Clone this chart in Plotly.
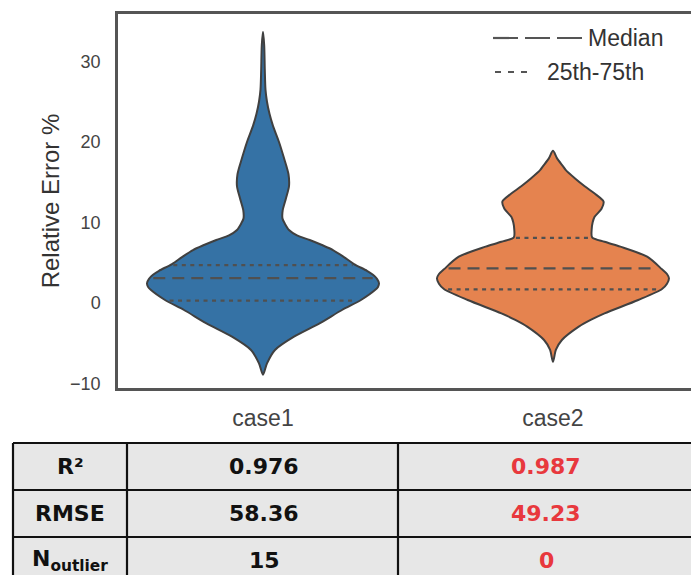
import numpy as np
import plotly.graph_objects as go

# ---- data -------------------------------------------------------------
categories = ["case1", "case2"]
violin_colors = ["#3572a5", "#e5834f"]

# violin outlines: value levels (top -> bottom) and relative density width
case1_levels = [33.7, 32.0, 29.0, 26.5, 25.0, 23.5, 22.0, 20.0, 18.0, 16.0, 14.5,
                13.0, 11.5, 10.5, 9.9, 9.07, 8.4, 7.83, 7.2, 6.58, 5.7, 4.84,
                4.0, 3.5, 3.0, 2.45, 2.0, 1.6, 0.37, -0.87, -2.5, -4.19, -5.84,
                -7.5, -8.9]
case1_density = [0, 1.2, 1.8, 2.5, 4, 6.5, 10, 16, 21, 25.5, 26,
                 23, 19.7, 19.5, 21.7, 26, 34, 46.7, 59, 70, 81, 91,
                 104, 110, 114, 116, 115, 112, 98, 79, 57, 31, 12,
                 4, 0]

case2_levels = [18.9, 18.0, 17.0, 16.5, 15.5, 14.5, 13.5, 12.6, 11.7, 10.7, 10.0,
                9.07, 8.16, 7.6, 7.0, 5.75, 4.18, 3.6, 3.06, 2.4, 1.74, 0.37,
                -1.28, -2.1, -2.94, -4.6, -5.8, -7.3]
case2_density = [0, 4, 10, 13, 22, 32, 43, 51, 49, 42, 40,
                 39, 39.5, 52, 68, 95, 110, 115, 117, 115, 110, 86,
                 52, 38, 26, 9, 3, 0]

# quartiles (25th, median, 75th)
case1_quartiles = [0.3, 3.1, 4.7]
case2_quartiles = [1.7, 4.3, 8.1]

# summary table
table_rows = ["R²", "RMSE", "N<sub>outlier</sub>"]
case1_stats = ["0.976", "58.36", "15"]
case2_stats = ["0.987", "49.23", "0"]

y_ticks = [-10, 0, 10, 20, 30]

# ---- figure -----------------------------------------------------------
W, H = 691, 575
L, R, T, B = 118, 0, 14, 187
PW, PH = W - L - R, H - T - B
HALF_WIDTH = 0.4

fig = go.Figure()

levels = [case1_levels, case2_levels]
dens = [case1_density, case2_density]
quarts = [case1_quartiles, case2_quartiles]

for i, cat in enumerate(categories):
    y = np.array(levels[i], dtype=float)
    d = np.array(dens[i], dtype=float)
    w = d / d.max() * HALF_WIDTH
    xs = np.concatenate([i + w, (i - w)[::-1][1:]])
    ys = np.concatenate([y, y[::-1][1:]])
    fig.add_trace(go.Scatter(
        x=xs, y=ys, mode="lines", fill="toself",
        fillcolor=violin_colors[i],
        line=dict(color="#404040", width=2, shape="spline", smoothing=0.8),
        showlegend=False, hoverinfo="skip",
    ))
    # inner quartile lines, spanning the outline width at that level
    yi, wi = y[::-1], w[::-1]
    for k, q in enumerate(quarts[i]):
        hw = float(np.interp(q, yi, wi)) - 0.012
        fig.add_trace(go.Scatter(
            x=[i - hw, i + hw], y=[q, q], mode="lines",
            line=dict(color="#505050", width=2.2,
                      dash="12px,7px" if k == 1 else "4px,4.5px"),
            showlegend=False, hoverinfo="skip",
        ))

font_main = "Liberation Sans, Arial, Helvetica, sans-serif"

fig.update_layout(
    width=W, height=H,
    margin=dict(l=L, r=R, t=T, b=B),
    paper_bgcolor="white", plot_bgcolor="white",
    font=dict(family=font_main, color="#444"),
    showlegend=False,
    xaxis=dict(
        range=[-0.5, 1.476], tickvals=[0, 1], ticktext=categories,
        showgrid=False, zeroline=False, showline=True, mirror=True,
        linecolor="#555", linewidth=2.5, ticks="",
        tickfont=dict(size=23, color="#444"), ticklabelstandoff=8,
    ),
    yaxis=dict(
        range=[-10.56, 35.9], tickvals=y_ticks,
        ticktext=["\u221210", "0", "10", "20", "30"],
        showgrid=False, zeroline=False, showline=True, mirror=False,
        linecolor="#555", linewidth=2.5, ticks="",
        tickfont=dict(size=18, color="#444"), ticklabelstandoff=11,
        title=dict(text="Relative Error %", font=dict(size=24, color="#333"),
                   standoff=4),
    ),
)


def px(x):
    return (x - L) / PW


def py(y):
    return (H - B - y) / PH


shapes = []
annots = []

# legend drawn as line samples + labels in the upper right corner
shapes.append(dict(type="line", xref="paper", yref="paper",
                   x0=px(493), x1=px(582), y0=py(38), y1=py(38),
                   line=dict(color="#555", width=2.2, dash="25px,7px")))
shapes.append(dict(type="line", xref="paper", yref="paper",
                   x0=px(495), x1=px(531), y0=py(72), y1=py(72),
                   line=dict(color="#555", width=2.2, dash="6px,7px")))
annots.append(dict(xref="paper", yref="paper", x=px(586), y=py(38),
                   text="Median", showarrow=False, xanchor="left",
                   yanchor="middle", font=dict(size=23, color="#333")))
annots.append(dict(xref="paper", yref="paper", x=px(545), y=py(72),
                   text="25th-75th", showarrow=False, xanchor="left",
                   yanchor="middle", font=dict(size=23, color="#333")))

# summary table under the axes
tbl_left, tbl_right = 13, 720
col_edges = [13, 127, 398]
col_centers = [70, 264, 546]
row_edges = [443, 490, 537]
row_centers = [466, 513, 560]

shapes.append(dict(type="rect", xref="paper", yref="paper",
                   x0=px(tbl_left), x1=px(tbl_right),
                   y0=py(row_edges[0]), y1=py(H + 20),
                   fillcolor="#e7e7e7", line=dict(width=0), layer="below"))
for ry in row_edges:
    shapes.append(dict(type="line", xref="paper", yref="paper",
                       x0=px(tbl_left), x1=px(tbl_right), y0=py(ry), y1=py(ry),
                       line=dict(color="#111", width=2.2)))
for cx in col_edges:
    shapes.append(dict(type="line", xref="paper", yref="paper",
                       x0=px(cx), x1=px(cx), y0=py(row_edges[0]), y1=py(H + 20),
                       line=dict(color="#111", width=2.2)))

tbl_font = "DejaVu Sans, Verdana, sans-serif"
for r, label in enumerate(table_rows):
    cells = [(label, "#111"), (case1_stats[r], "#111"), (case2_stats[r], "#e8383d")]
    for c, (txt, col) in enumerate(cells):
        annots.append(dict(xref="paper", yref="paper",
                           x=px(col_centers[c]), y=py(row_centers[r]),
                           text=f"<b>{txt}</b>", showarrow=False,
                           xanchor="center", yanchor="middle",
                           font=dict(family=tbl_font, size=22, color=col)))

fig.update_layout(shapes=shapes, annotations=annots)

fig.write_html("out.html")
